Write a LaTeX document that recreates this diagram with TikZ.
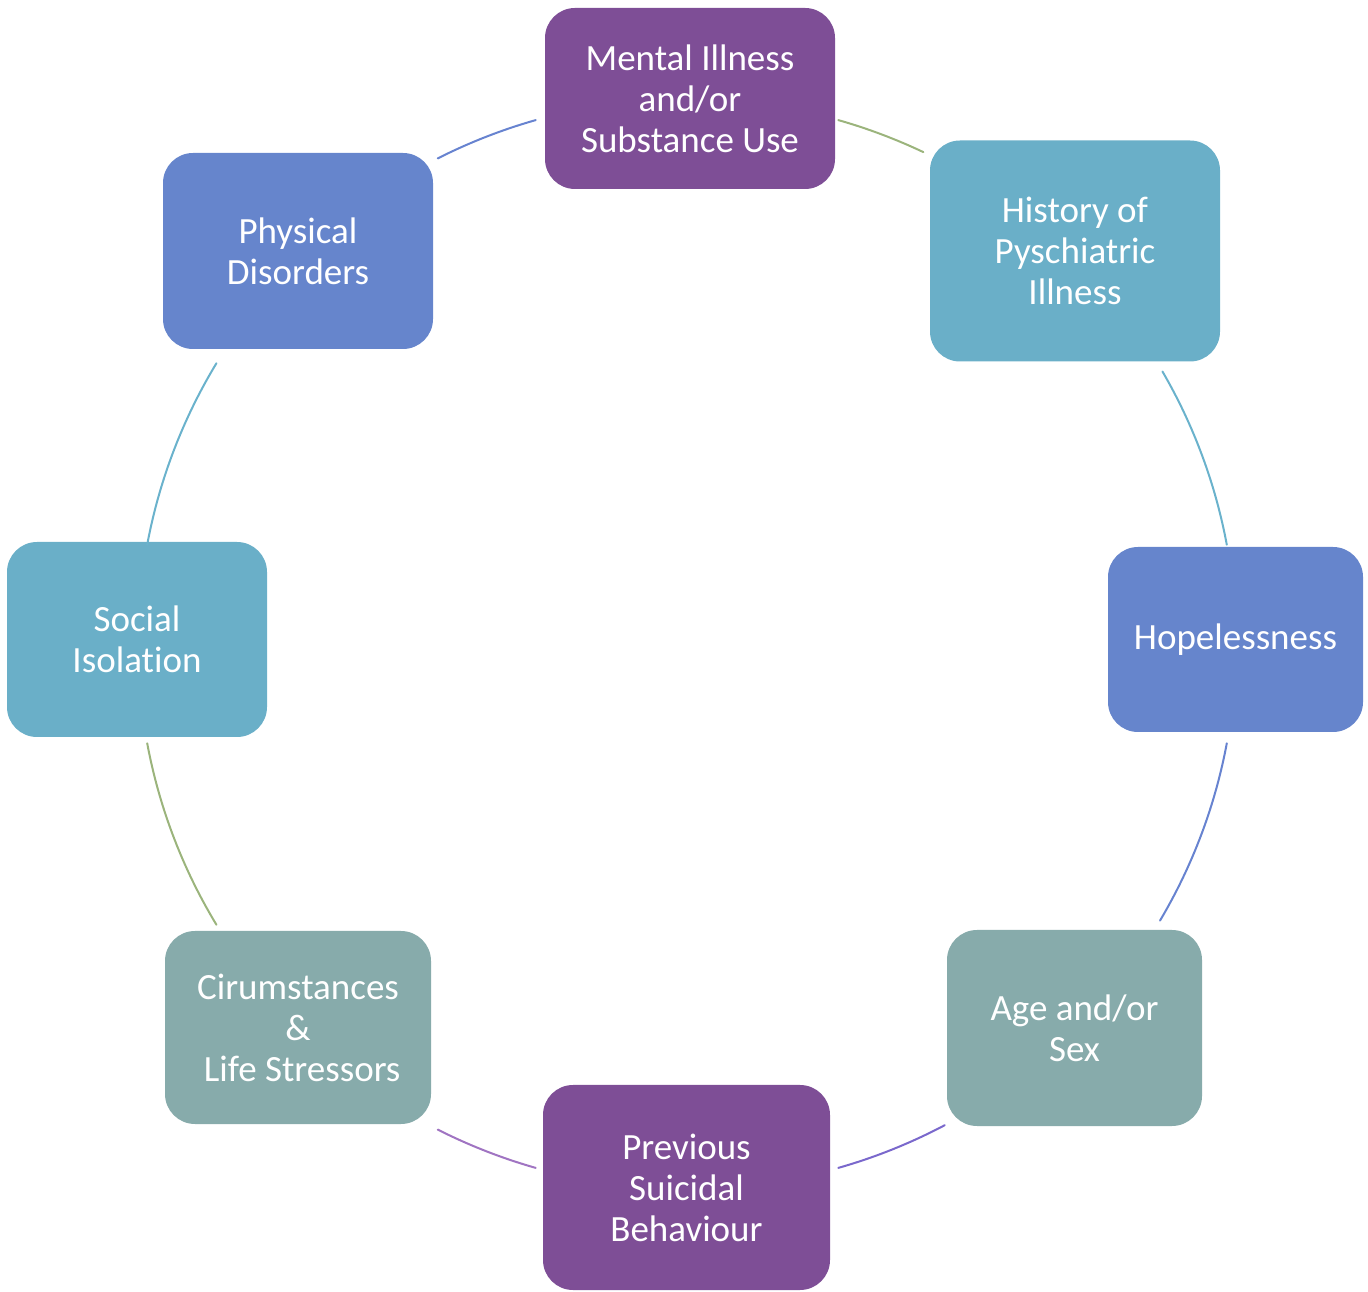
\documentclass[tikz,border=0pt]{standalone}
\usepackage{fontspec}
\setmainfont[Ligatures=NoCommon]{Carlito}
\usepackage{xcolor}
\usepackage{tikz}
\usetikzlibrary{calc}
\definecolor{plum}{HTML}{7E4E96}
\definecolor{sky}{HTML}{6AAFC8}
\definecolor{cobalt}{HTML}{6685CC}
\definecolor{sage}{HTML}{87ABAB}
\definecolor{olivearc}{HTML}{9BB47C}
\definecolor{skyarc}{HTML}{6AB2CC}
\definecolor{cobaltarc}{HTML}{6783D0}
\definecolor{violetarc}{HTML}{7A68CC}
\definecolor{plumarc}{HTML}{A074C2}
\tikzset{
  factor/.style={rectangle, rounded corners=30pt, draw=none, text=white,
                 align=center, inner sep=0pt,
                 font=\fontsize{37}{41}\selectfont},
  purplebox/.style={factor, fill=plum},
  skybox/.style={factor, fill=sky},
  bluebox/.style={factor, fill=cobalt},
  sagebox/.style={factor, fill=sage},
  ring/.style={line width=2pt, line cap=round}
}

\begin{document}
\begin{tikzpicture}[x=1pt, y=1pt]
  \useasboundingbox (0,0) rectangle (1368,1291);
  \coordinate (hub) at (687,647);
  % the eight risk factors, clockwise from the top
  \node[purplebox, minimum width=290, minimum height=181] (mental) at (690,1192.5)
    {Mental Illness\\and/or\\Substance Use};
  \node[skybox, minimum width=290, minimum height=221] (history) at (1075,1040)
    {History of\\Pyschiatric\\Illness};
  \node[bluebox, minimum width=255, minimum height=185] (hope) at (1235.5,651.5)
    {Hopelessness};
  \node[sagebox, minimum width=255, minimum height=196] (agesex) at (1074.5,263)
    {Age and/or\\Sex};
  \node[purplebox, minimum width=287, minimum height=205] (previous) at (686.5,103.5)
    {Previous\\Suicidal\\Behaviour};
  \node[sagebox, minimum width=266, minimum height=193] (stress) at (298,263.5)
    {Cirumstances\\\&\\~Life Stressors};
  \node[skybox, minimum width=260, minimum height=195] (social) at (137,651.5)
    {Social\\Isolation};
  \node[bluebox, minimum width=270, minimum height=196] (physical) at (298,1040)
    {Physical\\Disorders};
  % arcs of the cycle between neighbouring boxes
  \foreach \a/\b/\c in {74/64.5/olivearc, 30/10.5/skyarc, -10.5/-30.5/cobaltarc,
                        -62/-74/violetarc, -106/-117/plumarc, -149/-169.5/olivearc,
                        169.5/149/skyarc, 117/106/cobaltarc}
    \draw[ring, draw=\c] ($(hub)+(\a:549 and 545)$)
      arc[start angle=\a, end angle=\b, x radius=549, y radius=545];
\end{tikzpicture}
\end{document}
